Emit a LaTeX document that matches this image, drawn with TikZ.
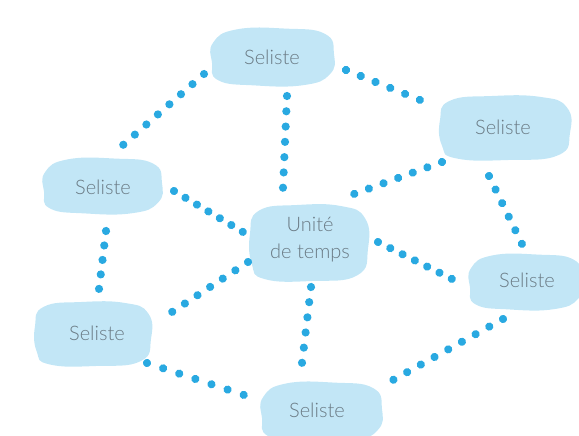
\documentclass[tikz,border=0pt]{standalone}
\usepackage{fontspec}
\setmainfont{Lato Light}
\usetikzlibrary{calc,decorations.markings}
\definecolor{blobfill}{HTML}{C2E6F6}
\definecolor{dotblue}{HTML}{29A9E1}
\definecolor{txtgray}{HTML}{6A7A84}
\tikzset{
  lbl/.style={text=txtgray, font=\fontsize{20}{27}\selectfont, align=center, inner sep=0pt},
  dotline/.style={decoration={markings,
      mark=between positions 0 and 1 step {1/(#1-1)-0.0005} with {\fill[dotblue] (0,0) circle (4.1pt);}},
      decorate}
}
\newcommand\myblob[4]{%
  \begin{scope}[shift={(#1,#2)}, xscale=#3, yscale=#4]
    \fill[blobfill] plot[smooth cycle, tension=0.8] coordinates {
      (-1,-0.25) (-0.85,-0.85) (-0.2,-1) (0.55,-0.97) (0.95,-0.65)
      (1,0.15) (0.82,0.85) (0.05,1) (-0.75,0.95) (-0.97,0.55)};
  \end{scope}}
\newcommand\myblobb[4]{%
  \begin{scope}[shift={(#1,#2)}, xscale=#3, yscale=#4]
    \fill[blobfill] plot[smooth cycle, tension=0.8] coordinates {
      (-0.98,-0.5) (-0.6,-0.95) (0.2,-0.98) (0.85,-0.8) (1,-0.1)
      (0.93,0.6) (0.5,0.97) (-0.3,0.98) (-0.9,0.8) (-1,0.2)};
  \end{scope}}
\begin{document}
\begin{tikzpicture}[x=1pt, y=-1pt]
\path[use as bounding box] (0,0) rectangle (579,436);
% blobs
\myblobb{273}{57}{61}{29}
\myblob{505}{128}{65}{32}
\myblobb{103}{186}{59}{28}
\myblob{309}{243}{59}{38}
\myblobb{526}{282}{56}{28}
\myblob{93}{334}{58}{32}
\myblobb{322}{412}{60}{30}
% nodes
\node[lbl] (T) at (272,57) {Seliste};
\node[lbl] (UR) at (503,127) {Seliste};
\node[lbl] (L) at (103,187) {Seliste};
\node[lbl] (C) at (310,240) {Unité\\de temps};
\node[lbl] (R) at (527,280) {Seliste};
\node[lbl] (LL) at (97,333) {Seliste};
\node[lbl] (B) at (317,410) {Seliste};
% connectors
\path[dotline=8] ($(T)+(-68,17)$) -- ($(L)+(20,-42)$);
\path[dotline=6] ($(T)+(74,13)$) -- ($(UR)+(-83,-27)$);
\path[dotline=7] ($(T)+(15,39)$) -- ($(C)+(-27,-52)$);
\path[dotline=7] ($(UR)+(-61,35)$) -- ($(C)+(44,-46)$);
\path[dotline=6] ($(UR)+(-14,49)$) -- ($(R)+(-5,-36)$);
\path[dotline=7] ($(L)+(71,4)$) -- ($(C)+(-67,-8)$);
\path[dotline=5] ($(L)+(3,44)$) -- ($(LL)+(2,-44)$);
\path[dotline=7] ($(C)+(-62,22)$) -- ($(LL)+(75,-21)$);
\path[dotline=7] ($(C)+(68,2)$) -- ($(R)+(-75,-1)$);
\path[dotline=6] ($(C)+(1,47)$) -- ($(B)+(-15,-47)$);
\path[dotline=7] ($(LL)+(50,30)$) -- ($(B)+(-73,-15)$);
\path[dotline=9] ($(R)+(-24,39)$) -- ($(B)+(76,-30)$);
\end{tikzpicture}
\end{document}
